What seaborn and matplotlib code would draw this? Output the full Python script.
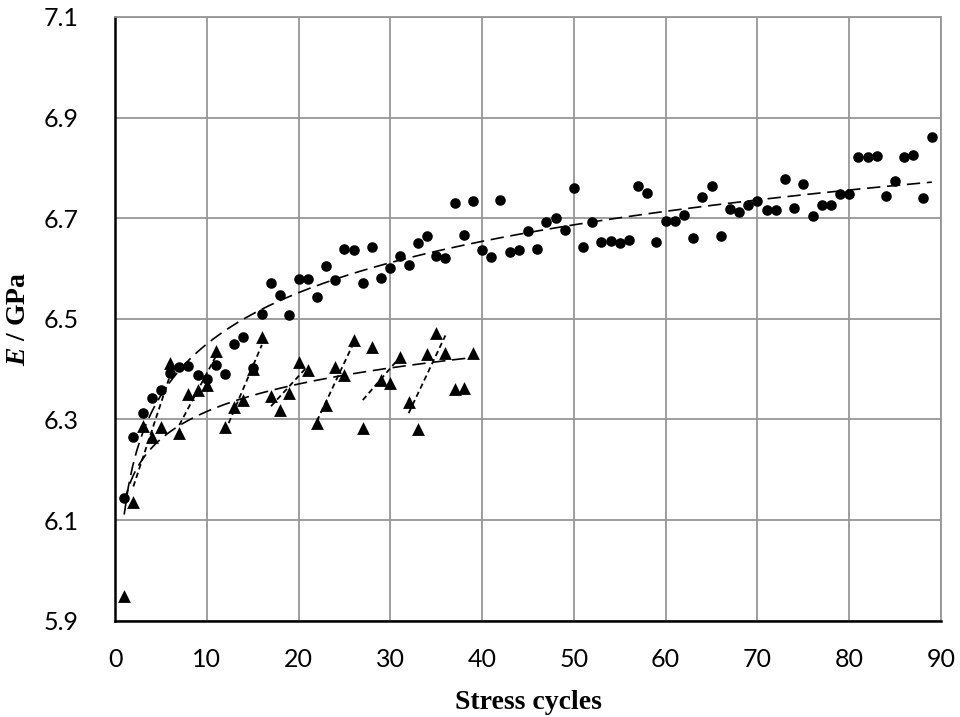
import numpy as np
import pandas as pd
import matplotlib
matplotlib.use("Agg")
import matplotlib.pyplot as plt
import seaborn as sns

# Dados: ciclos de tensão e módulo E (GPa)
ciclos_circulos = list(range(1, 90))
e_circulos = [6.143, 6.266, 6.313, 6.343, 6.359, 6.392, 6.404, 6.407, 6.388, 6.381,
              6.409, 6.391, 6.450, 6.464, 6.402, 6.509, 6.572, 6.547, 6.507, 6.579,
              6.579, 6.543, 6.606, 6.577, 6.638, 6.636, 6.571, 6.642, 6.581, 6.601,
              6.625, 6.608, 6.651, 6.665, 6.624, 6.620, 6.731, 6.666, 6.734, 6.636,
              6.623, 6.736, 6.632, 6.636, 6.675, 6.638, 6.693, 6.700, 6.676, 6.760,
              6.642, 6.692, 6.652, 6.654, 6.650, 6.657, 6.764, 6.750, 6.652, 6.695,
              6.695, 6.707, 6.661, 6.742, 6.764, 6.665, 6.719, 6.713, 6.726, 6.734,
              6.717, 6.717, 6.777, 6.721, 6.768, 6.705, 6.726, 6.726, 6.749, 6.749,
              6.822, 6.821, 6.824, 6.745, 6.774, 6.822, 6.825, 6.740, 6.862]

ciclos_triangulos = list(range(1, 40))
e_triangulos = [5.950, 6.135, 6.288, 6.265, 6.286, 6.412, 6.273, 6.351, 6.359, 6.368,
                6.436, 6.286, 6.324, 6.338, 6.400, 6.463, 6.347, 6.319, 6.352, 6.414,
                6.399, 6.293, 6.328, 6.405, 6.389, 6.457, 6.283, 6.445, 6.379, 6.372,
                6.425, 6.334, 6.281, 6.431, 6.471, 6.432, 6.361, 6.363, 6.432]

# blocos de 5 ciclos com tendência linear (triângulos)
blocos = [(2, 6), (7, 11), (12, 16), (17, 21), (22, 26), (27, 31), (32, 36)]

y_ticks = [5.9, 6.1, 6.3, 6.5, 6.7, 6.9, 7.1]
x_ticks = list(range(0, 100, 10))

df_c = pd.DataFrame({"ciclo": ciclos_circulos, "E": e_circulos})
df_t = pd.DataFrame({"ciclo": ciclos_triangulos, "E": e_triangulos})

sns.set_style("white")
plt.rcParams["mathtext.fontset"] = "custom"
plt.rcParams["mathtext.bfit"] = "Liberation Serif:italic:bold"
plt.rcParams["mathtext.rm"] = "Liberation Serif:bold"

fig = plt.figure(figsize=(9.6, 7.17), dpi=100)
ax = fig.add_axes([0.1198, 0.1343, 0.8604, 0.842])

grid_cor = "#969696"

# tendência logarítmica (estilo Excel)
def tendencia_log(df, x0, x1):
    b, a = np.polyfit(np.log(df["ciclo"]), df["E"], 1)
    xs = np.linspace(x0, x1, 200)
    return pd.DataFrame({"ciclo": xs, "E": a + b * np.log(xs)})

fit_c = tendencia_log(df_c, 1, 89)
fit_t = tendencia_log(df_t, 1, 39)
ax.plot(fit_c["ciclo"], fit_c["E"], color="black", lw=1.2, dashes=(8, 4), zorder=3)
ax.plot(fit_t["ciclo"], fit_t["E"], color="black", lw=1.2, dashes=(8, 4), zorder=3)

# tendências lineares por bloco
for ini, fim in blocos:
    sub = df_t[(df_t["ciclo"] >= ini) & (df_t["ciclo"] <= fim)]
    m, c = np.polyfit(sub["ciclo"], sub["E"], 1)
    xs = np.array([ini, fim])
    ax.plot(xs, m * xs + c, color="black", lw=1.3, dashes=(3, 2), zorder=3)

sns.scatterplot(data=df_c, x="ciclo", y="E", ax=ax, marker="o", s=58,
                color="black", edgecolor="black", linewidth=0, zorder=4)
sns.scatterplot(data=df_t, x="ciclo", y="E", ax=ax, marker="^", s=85,
                color="black", edgecolor="black", linewidth=0, zorder=4)

ax.set_xlim(0, 90)
ax.set_ylim(5.9, 7.1)
ax.set_xticks(x_ticks)
ax.set_yticks(y_ticks)
ax.set_yticklabels([f"{v:.1f}" for v in y_ticks])
ax.grid(True, color=grid_cor, lw=1.3)
ax.set_axisbelow(True)

for lado in ["top", "right"]:
    ax.spines[lado].set_color(grid_cor)
    ax.spines[lado].set_linewidth(1.3)
for lado in ["left", "bottom"]:
    ax.spines[lado].set_color("black")
    ax.spines[lado].set_linewidth(1.8)

ax.tick_params(axis="both", direction="in", length=7, width=1.5, color="black",
               labelsize=18, labelfontfamily="Lato", labelcolor="black")
ax.tick_params(axis="x", pad=20)
ax.tick_params(axis="y", pad=26)
ax.tick_params(top=False, right=False)

ax.set_xlabel("Stress cycles", fontfamily="Liberation Serif", fontweight="bold",
              fontsize=20, labelpad=13, color="black")
ax.set_ylabel(r"$\mathbfit{E}$ / GPa", fontfamily="Liberation Serif", fontweight="bold",
              fontsize=20, labelpad=9, color="black")

fig.savefig("out.png", dpi=100)
